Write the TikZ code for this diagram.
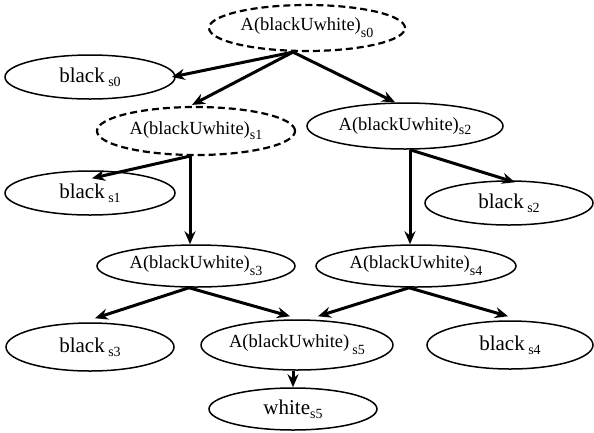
\documentclass[tikz,border=0pt]{standalone}
\usepackage{fontspec}
\setmainfont{Liberation Serif}
\usetikzlibrary{shapes.geometric,arrows.meta,calc}
\newcommand\lowsub[2][-6pt]{\raisebox{#1}{\fontsize{14}{14}\selectfont #2}}
\begin{document}
\begin{tikzpicture}[x=1pt,y=-1pt,
  ell/.style={ellipse, draw, line width=1.5pt, inner sep=0pt},
  dell/.style={ell, dash pattern=on 7pt off 4pt, line width=2.2pt},
  atext/.style={font=\fontsize{18.5}{18.5}\selectfont},
  btext/.style={font=\fontsize{21}{21}\selectfont},
  arr/.style={line width=3pt, -{Stealth[length=13pt,width=11pt]}}]
\useasboundingbox (0,0) rectangle (594,432);
% nodes
\node[dell, atext, minimum width=196, minimum height=46] (s0) at (307,28) {A(blackUwhite)\lowsub[-7pt]{s0}};
\node[ell, btext, minimum width=170, minimum height=44] (b0) at (90,77) {black\,\lowsub[-4pt]{s0}};
\node[dell, atext, minimum width=198, minimum height=48] (s1) at (196,131) {A(blackUwhite)\lowsub[-5pt]{s1}};
\node[ell, atext, minimum width=196, minimum height=46] (s2) at (405,126) {A(blackUwhite)\lowsub[-4pt]{s2}};
\node[ell, btext, minimum width=170, minimum height=44] (b1) at (90,193) {black\,\lowsub[-4pt]{s1}};
\node[ell, btext, minimum width=168, minimum height=44] (b2) at (509,203) {black\,\lowsub[-4pt]{s2}};
\node[ell, atext, minimum width=198, minimum height=42] (s3) at (196,266) {A(blackUwhite)\lowsub[-7pt]{s3}};
\node[ell, atext, minimum width=200, minimum height=42] (s4) at (416,266) {A(blackUwhite)\lowsub[-7pt]{s4}};
\node[ell, btext, minimum width=168, minimum height=48] (b3) at (90,347) {black\,\lowsub[-4pt]{s3}};
\node[ell, atext, minimum width=178, minimum height=50] (s5) at (297,345) {A(blackUwhite)\,\lowsub[-7pt]{s5}};
\node[ell, btext, minimum width=166, minimum height=48] (b4) at (510,345) {black\,\lowsub[-4pt]{s4}};
\node[ell, btext, minimum width=168, minimum height=42] (w5) at (293,409) {white\lowsub[-4pt]{s5}};
% connectors
\coordinate (o0) at ($(s0.south)+(-14,0)$);
\coordinate (o1) at ($(s1.south)+(-6,0)$);
\coordinate (o2) at ($(s2.south)+(5,0)$);
\coordinate (o3) at ($(s3.south)+(-7,0)$);
\coordinate (o4) at ($(s4.south)+(-7,0)$);
\coordinate (o5) at ($(s5.south)+(-4,0)$);
\draw[arr] (o0) -- ($(b0.east)+(-4,0)$);
\draw[arr] (o0) -- ($(s1.north)+(-4,-1)$);
\draw[arr] (o0) -- ($(s2.north)+(-10,0)$);
\draw[arr] (o1) -- ($(b1.north)+(2,8)$);
\draw[arr] (o1) -- (o1 |- s3.north);
\draw[arr] (o2) -- ($(b2.north)+(6,2)$);
\draw[arr] (o2) -- (o2 |- s4.north);
\draw[arr] (o3) -- ($(b3.north)+(5,-4)$);
\draw[arr] (o3) -- ($(s5.north)+(-7,-3)$);
\draw[arr] (o4) -- ($(s5.north)+(21,-3)$);
\draw[arr] (o4) -- ($(b4.north)+(-2,-4)$);
\draw[arr] (o5) -- (o5 |- w5.north);
\end{tikzpicture}
\end{document}
